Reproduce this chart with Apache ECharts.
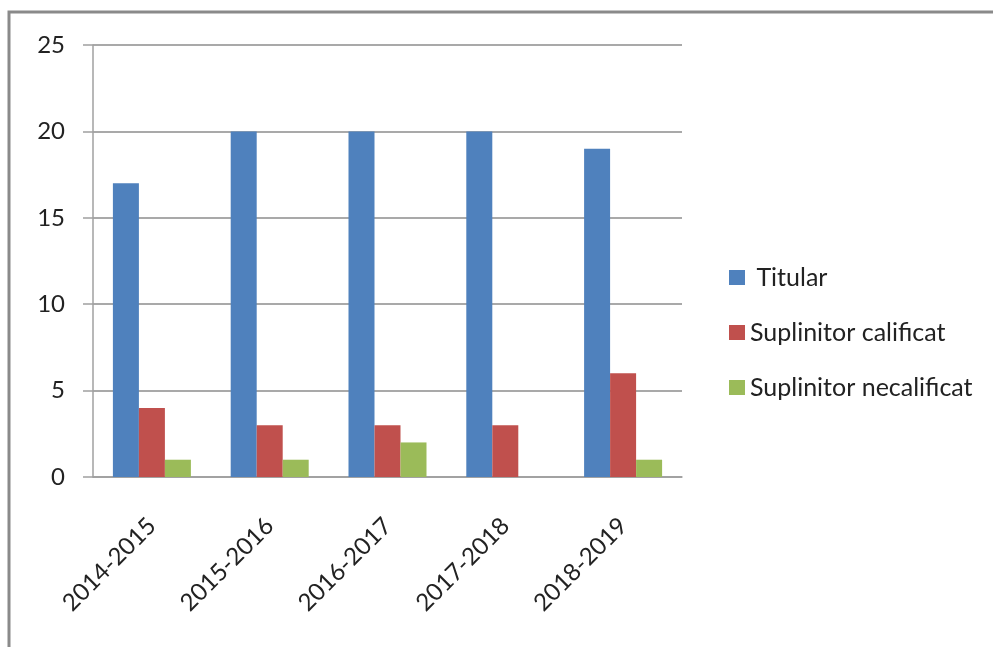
<!DOCTYPE html>
<html><head><meta charset="utf-8">
<script src="https://cdn.jsdelivr.net/npm/echarts@6/dist/echarts.min.js"></script>
<style>html,body{margin:0;padding:0;background:#fff}#c{width:993px;height:647px}</style>
</head><body><div id="c"></div>
<script>
const categories = ['2014-2015','2015-2016','2016-2017','2017-2018','2018-2019'];
const titular = [17, 20, 20, 20, 19];
const suplinitorCalificat = [4, 3, 3, 3, 6];
const suplinitorNecalificat = [1, 1, 2, 0, 1];
const seriesNames = [' Titular', 'Suplinitor calificat', 'Suplinitor necalificat'];
const colors = ['#4f81bd', '#c0504d', '#9bbb59'];

const font = 'Lato, "Open Sans", sans-serif';
const chart = echarts.init(document.getElementById('c'));
chart.setOption({
  animation: false,
  color: colors,
  textStyle: {fontFamily: font},
  graphic: [{type: 'rect', shape: {x: 9, y: 12, width: 1200, height: 900},
    style: {fill: 'none', stroke: '#8a8a8a', lineWidth: 3}, silent: true}],
  grid: {left: 93, top: 45, right: 311, bottom: 170, containLabel: false},
  legend: {
    orient: 'vertical', left: 724, top: 260, itemGap: 30,
    itemWidth: 16, itemHeight: 15, icon: 'rect',
    textStyle: {fontSize: 25, color: '#222', fontFamily: font}
  },
  xAxis: {
    type: 'category', data: categories,
    axisLine: {lineStyle: {color: '#a0a0a0', width: 1.5}},
    axisTick: {length: 10, lineStyle: {color: '#a0a0a0', width: 1.5}},
    axisLabel: {rotate: 45, fontSize: 24, color: '#222', margin: 45, fontFamily: font}
  },
  yAxis: {
    type: 'value', min: 0, max: 25, interval: 5,
    axisLine: {show: true, lineStyle: {color: '#a0a0a0', width: 1.5}},
    axisTick: {show: true, length: 10, lineStyle: {color: '#a0a0a0', width: 1.5}},
    splitLine: {lineStyle: {color: '#8c8c8c', width: 1.5}},
    axisLabel: {fontSize: 24, color: '#222', margin: 28, fontFamily: font}
  },
  series: [
    {name: seriesNames[0], type: 'bar', data: titular, barWidth: 26, barGap: '0%'},
    {name: seriesNames[1], type: 'bar', data: suplinitorCalificat, barWidth: 26, barGap: '0%'},
    {name: seriesNames[2], type: 'bar', data: suplinitorNecalificat, barWidth: 26, barGap: '0%'}
  ]
});
</script></body></html>
